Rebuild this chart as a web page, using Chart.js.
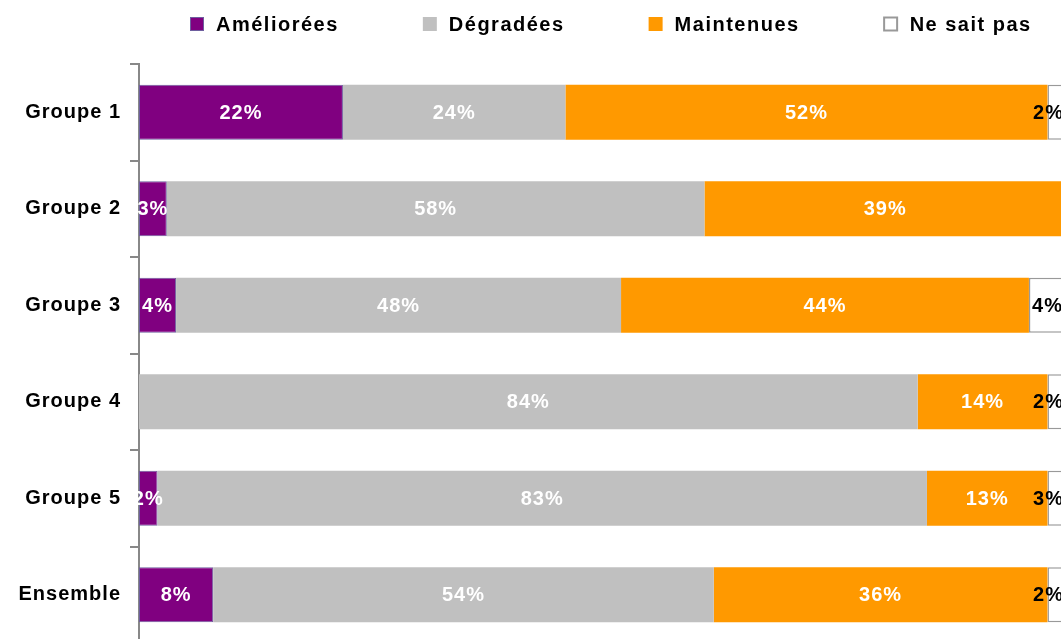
<!DOCTYPE html>
<html>
<head>
<meta charset="utf-8">
<script src="https://cdn.jsdelivr.net/npm/chart.js@4/dist/chart.umd.min.js"></script>
<style>
  html, body { margin: 0; padding: 0; background: #fff; overflow: hidden; }
  #wrap { position: absolute; left: 0; top: 0; width: 1066px; height: 664px; }
</style>
</head>
<body>
<div id="wrap"><canvas id="chart"></canvas></div>
<script>
const categories = ['Groupe 1', 'Groupe 2', 'Groupe 3', 'Groupe 4', 'Groupe 5', 'Ensemble'];
const seriesNames = ['Améliorées', 'Dégradées', 'Maintenues', 'Ne sait pas'];
const ameliorees = [22, 3, 4, 0, 2, 8];
const degradees = [24, 58, 48, 84, 83, 54];
const maintenues = [52, 39, 44, 14, 13, 36];
const neSaitPas = [2, 0, 4, 2, 3, 2];

const FONT = "'Liberation Sans', Arial, sans-serif";
const fills = ['#800080', '#C0C0C0', '#FF9900', '#FFFFFF'];
const borders = ['#6E5E9E', '#C0C0C0', '#FF9900', '#999999'];
const labelColors = ['#FFFFFF', '#FFFFFF', '#FFFFFF', '#000000'];

// wider letter spacing, like the office-style rendering
const spacing = {
  id: 'spacing',
  beforeDraw(chart) { chart.ctx.letterSpacing = '1px'; }
};

// percentage labels centred in each segment, kept inside the plot on the right
const valueLabels = {
  id: 'valueLabels',
  afterDatasetsDraw(chart) {
    const ctx = chart.ctx;
    const right = chart.chartArea.right - 2;
    ctx.save();
    ctx.font = 'bold 20px ' + FONT;
    ctx.letterSpacing = '1px';
    ctx.textAlign = 'center';
    ctx.textBaseline = 'middle';
    chart.data.datasets.forEach((ds, di) => {
      const meta = chart.getDatasetMeta(di);
      meta.data.forEach((bar, i) => {
        const v = ds.data[i];
        if (!v) return;
        const txt = v + '%';
        const w = ctx.measureText(txt).width;
        let x = (bar.x + bar.base) / 2;
        if (x + w / 2 > right) x = right - w / 2;
        ctx.fillStyle = labelColors[di];
        ctx.fillText(txt, x, bar.y + 1);
      });
    });
    ctx.restore();
  }
};

// legend row across the top
const topLegend = {
  id: 'topLegend',
  afterDraw(chart) {
    const ctx = chart.ctx;
    ctx.save();
    ctx.font = 'bold 20px ' + FONT;
    ctx.letterSpacing = '1.5px';
    ctx.textBaseline = 'middle';
    ctx.textAlign = 'left';
    let x = 190;
    const y = 24;
    chart.data.datasets.forEach((ds, di) => {
      ctx.fillStyle = fills[di];
      ctx.fillRect(x, y - 7, 14, 14);
      if (di === 0 || di === 3) {
        ctx.strokeStyle = borders[di];
        ctx.lineWidth = di === 3 ? 2 : 1;
        ctx.strokeRect(x + 0.5, y - 6.5, 13, 13);
      }
      ctx.fillStyle = '#000';
      ctx.fillText(ds.label, x + 26, y + 1);
      x += 26 + ctx.measureText(ds.label).width + 84;
    });
    ctx.restore();
  }
};

const seriesData = [ameliorees, degradees, maintenues, neSaitPas];

new Chart(document.getElementById('chart'), {
  type: 'bar',
  data: {
    labels: categories,
    datasets: seriesNames.map((name, i) => ({
      label: name,
      data: seriesData[i],
      backgroundColor: fills[i],
      borderColor: borders[i],
      borderWidth: i === 0 ? 1 : (i === 3 ? 1.5 : 0),
      borderSkipped: false,
      barPercentage: 0.57,
      categoryPercentage: 1
    }))
  },
  options: {
    indexAxis: 'y',
    responsive: true,
    maintainAspectRatio: false,
    animation: false,
    layout: { padding: { top: 64, left: 0, right: 0, bottom: 0 } },
    plugins: {
      legend: { display: false },
      tooltip: { enabled: false }
    },
    scales: {
      x: { stacked: true, min: 0, max: 100, display: false },
      y: {
        stacked: true,
        afterFit(scale) { scale.width = 139; },
        border: { color: '#888888', width: 2 },
        grid: { offset: true, drawOnChartArea: false, drawTicks: true, tickLength: 9, color: '#888888', lineWidth: 2 },
        ticks: {
          color: '#000',
          padding: 9,
          font: { family: FONT, weight: 'bold', size: 20 }
        }
      }
    }
  },
  plugins: [spacing, valueLabels, topLegend]
});
</script>
</body>
</html>
